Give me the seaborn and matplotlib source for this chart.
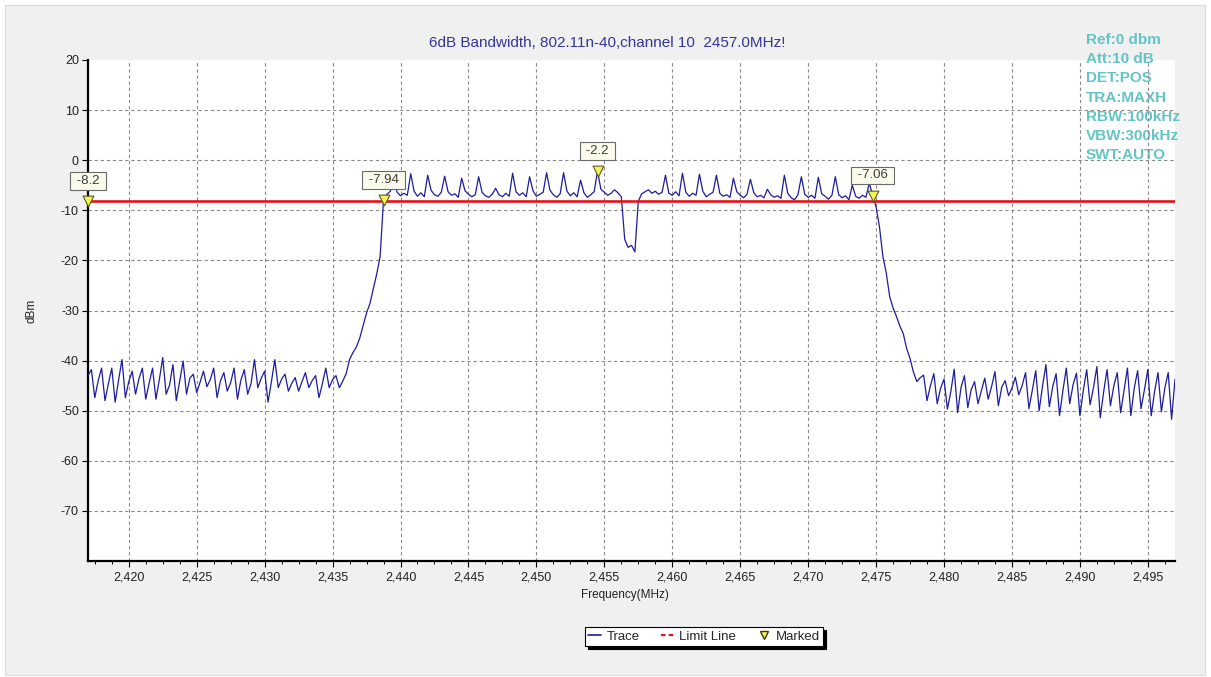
import numpy as np
import pandas as pd
import matplotlib
matplotlib.use("Agg")
import matplotlib.pyplot as plt
from matplotlib.ticker import MultipleLocator, FixedLocator, FuncFormatter
from matplotlib.lines import Line2D
from matplotlib.patches import Rectangle
import seaborn as sns

# ---- sweep and measured trace (dBm), 0.25 MHz per point ----
start_mhz = 2417.0
stop_mhz = 2497.0
n_points = 321

# noise floor below the channel, 2417.00 .. 2436.00 MHz
floor_low = [
    -43.0,
    -41.8, -47.4, -44.0,  -41.5, -48.0, -44.6,  -41.5, -48.3, -43.9,
    -39.8, -47.4, -44.2,  -42.1, -46.7, -43.6,  -41.5, -47.7, -44.5,
    -41.5, -47.7, -43.8,  -39.4, -46.7, -44.9,  -40.8, -48.0, -44.1,
    -40.1, -46.7, -43.5,  -42.7, -46.4, -44.3,  -42.1, -45.2, -43.8,
    -41.5, -47.4, -44.0,  -42.4, -46.1, -44.4,  -41.5, -47.7, -43.9,
    -41.8, -46.7, -44.6,  -39.8, -45.4, -43.5,  -42.1, -48.3, -44.2,
    -39.8, -45.4, -43.7,  -42.7, -46.1, -44.5,  -43.4, -46.1, -44.2,
    -42.4, -45.4, -44.0,  -43.0, -47.4, -44.6,  -41.5, -45.4, -43.8,
    -43.0, -45.4, -44.1,
    -42.6,
]
# lower skirt, 2436.25 .. 2438.75 MHz
rise_edge = [-39.8, -38.4, -37.3, -35.5, -33.0, -30.5, -28.6, -25.6, -22.7, -19.2, -7.94]
# occupied band, 2439.00 .. 2474.75 MHz
in_band = [
    -6.8, -6.2,
    -4.2, -6.4, -7.1, -6.6, -7.0,
    -2.7, -6.2, -7.2, -6.5, -7.3,
    -3.0, -6.0, -6.9, -7.2, -6.4,
    -3.2, -6.3, -7.0, -6.7, -7.4,
    -3.6, -6.1, -6.8, -7.3, -6.9,
    -3.3, -6.4, -7.1, -7.4, -6.8,
    -5.6, -6.9, -7.3, -6.6, -7.2,
    -2.6, -6.3, -7.0, -6.5, -7.3,
    -3.3, -6.1, -7.2, -6.8, -6.4,
    -2.5, -6.0, -6.9, -7.4, -6.7,
    -2.5, -6.2, -7.1, -6.5, -7.3,
    -4.0, -6.5, -7.4, -6.9, -6.3,
    -2.2, -5.8, -6.4, -7.0, -6.6,
    -5.9, -6.5, -7.3, -15.8, -17.4,
    -17.0, -18.3, -8.2, -6.7, -6.3,
    -5.9, -6.6, -6.2, -6.8, -6.4,
    -3.0, -6.6, -7.0, -6.3, -7.1,
    -2.6, -6.4, -7.2, -6.6, -7.0,
    -2.8, -6.2, -7.3, -6.8, -6.4,
    -3.0, -6.6, -7.2, -6.9, -7.4,
    -3.6, -6.3, -7.0, -7.5, -6.8,
    -3.8, -6.5, -7.3, -7.0, -7.5,
    -5.8, -6.9, -7.4, -7.1, -7.6,
    -3.0, -6.6, -7.5, -7.9, -6.9,
    -3.3, -6.8, -7.4, -7.0, -7.6,
    -3.4, -6.7, -7.2, -7.8, -7.0,
    -3.3, -6.9, -7.5, -7.1, -7.9,
    -5.0, -7.2, -7.6, -7.0, -7.4,
    -4.6, -7.06,
]
# upper skirt, 2475.00 .. 2478.25 MHz
fall_edge = [-9.3, -13.3, -19.2, -22.5, -27.2, -29.5, -31.2, -33.1, -34.6,
             -37.6, -39.6, -42.3, -44.2, -43.4]
# noise floor above the channel, 2478.50 .. 2497.00 MHz
floor_high = [
    -42.9, -48.0, -45.0,  -42.6, -48.6, -45.5,  -43.7, -49.7, -46.2,
    -41.7, -50.4, -45.4,  -43.0, -49.4, -45.8,  -44.2, -48.6, -46.0,
    -43.5, -47.7, -45.2,  -42.2, -49.0, -45.3,  -44.0, -47.0, -45.5,
    -43.3, -46.8, -45.0,  -42.4, -49.6, -45.9,  -42.0, -50.0, -45.1,
    -40.8, -49.2, -45.2,  -42.6, -51.0, -46.0,  -41.5, -48.6, -44.8,
    -42.5, -51.0, -46.0,  -41.8, -48.8, -45.4,  -41.2, -51.4, -46.2,
    -41.8, -49.0, -45.0,  -42.4, -50.4, -46.0,  -41.5, -51.0, -45.5,
    -42.0, -49.6, -45.8,  -41.8, -51.0, -46.1,  -42.4, -50.2, -45.5,
    -42.4, -51.7, -43.7,
]

# markers: reference level (peak - 6 dB), lower edge, peak, upper edge
marker_mhz = [2417.0, 2438.75, 2454.5, 2474.75]
marker_dbm = [-8.2, -7.94, -2.2, -7.06]
limit_dbm = -8.2

title_text = "6dB Bandwidth, 802.11n-40,channel 10  2457.0MHz!"
settings_text = ["Ref:0 dbm", "Att:10 dB", "DET:POS", "TRA:MAXH",
                 "RBW:100kHz", "VBW:300kHz", "SWT:AUTO"]
y_ticks = [-70, -60, -50, -40, -30, -20, -10, 0, 10, 20]

# ---- assemble ----
freq = np.linspace(start_mhz, stop_mhz, n_points)
dbm = np.concatenate([floor_low, rise_edge, in_band, fall_edge, floor_high])
trace = pd.DataFrame({"Frequency": freq, "dBm": dbm})

sns.set_theme(style="white")
plt.rcParams["font.family"] = ["Liberation Sans", "DejaVu Sans"]

W, H = 1211, 677
fig = plt.figure(figsize=(W / 100, H / 100), dpi=100, facecolor="white")
fig.patches.append(Rectangle((5 / W, 2 / H), 1200 / W, 670 / H, transform=fig.transFigure,
                             facecolor="#f0f0f0", edgecolor="#dcdcdc", lw=0.8, zorder=-10))

ax = fig.add_axes([88 / W, 1 - 561 / H, (1175 - 88) / W, (561 - 60) / H])
ax.set_facecolor("white")

trace_color = "#1c1ca0"
limit_color = "#e4141a"
info_color = "#62c4c6"

sns.lineplot(data=trace, x="Frequency", y="dBm", ax=ax, color=trace_color,
             lw=0.9, zorder=3, legend=False)
ax.axhline(limit_dbm, color=limit_color, lw=1.9, zorder=4)

sns.scatterplot(x=marker_mhz, y=marker_dbm, ax=ax, marker="v", s=60,
                color="#f6f25a", edgecolor="#5a5a1e", linewidth=0.8,
                zorder=6, clip_on=False, legend=False)
for fx, fy in zip(marker_mhz, marker_dbm):
    ax.annotate(f" {fy:g} ", (fx, fy), xytext=(0, 14.5), textcoords="offset points",
                ha="center", va="center", fontsize=9.5, color="#3c3c3c", zorder=7,
                annotation_clip=False,
                bbox=dict(boxstyle="square,pad=0.22", fc="#fbfbec", ec="#6a6a6a", lw=0.8))

# analyser settings sit under the grid
for i, line in enumerate(settings_text):
    ax.text(1086 / W, 1 - (40 + 19.2 * i) / H, line, transform=fig.transFigure,
            ha="left", va="center", fontsize=11, fontweight="bold",
            color=info_color, zorder=0.3, clip_on=False)

ax.set_xlim(start_mhz, stop_mhz)
ax.set_ylim(-80, 20)
ax.xaxis.set_major_locator(MultipleLocator(5))
ax.xaxis.set_minor_locator(MultipleLocator(1.25))
ax.xaxis.set_major_formatter(FuncFormatter(lambda v, p: f"{v:,.0f}"))
ax.yaxis.set_major_locator(FixedLocator(y_ticks))
ax.yaxis.set_major_formatter(FuncFormatter(lambda v, p: f"{v:.0f}"))

ax.set_axisbelow(True)
ax.grid(True, which="major", color="#8a8a8a", ls=(0, (3, 2.5)), lw=0.8)
for gl, t in zip(ax.yaxis.get_gridlines(), y_ticks):
    if t == 20:
        gl.set_visible(False)

for side in ("top", "right"):
    ax.spines[side].set_visible(False)
for side in ("left", "bottom"):
    ax.spines[side].set_color("black")
    ax.spines[side].set_linewidth(1.6)

ax.tick_params(axis="both", which="major", direction="out", length=4, width=0.8,
               color="black", labelsize=9, labelcolor="#222222")
ax.tick_params(axis="x", which="minor", direction="out", length=2.5, width=0.7,
               color="black", bottom=True)
ax.tick_params(axis="x", which="major", pad=3.5, bottom=True)
ax.tick_params(axis="y", which="major", pad=2.5, left=True)

ax.set_xlabel("Frequency(MHz)", fontsize=8.5, color="#222222")
ax.set_ylabel("dBm", fontsize=8.5, color="#222222")
ax.xaxis.set_label_coords((625 - 88) / 1087, -0.056)
ax.yaxis.set_label_coords(-0.046, 0.5)

fig.text(607 / W, 1 - 42.7 / H, title_text, ha="center", va="center",
         fontsize=11, color="#35359c")

handles = [
    Line2D([], [], color=trace_color, lw=1.2, label="Trace"),
    Line2D([], [], color=limit_color, lw=1.6, ls=(0, (2, 1.5)), label="Limit Line"),
    Line2D([], [], marker="v", ls="none", mfc="#f6f25a", mec="#3a3a10", ms=6, label="Marked"),
]
leg = fig.legend(handles=handles, loc="center", bbox_to_anchor=(704 / W, 1 - 636.5 / H),
                 ncol=3, frameon=True, fancybox=False,
                 shadow={"color": "black", "alpha": 1.0},
                 edgecolor="black", facecolor="white", framealpha=1, fontsize=9.5,
                 handlelength=1.0, handletextpad=0.4, columnspacing=1.6,
                 borderpad=0.25, borderaxespad=0)
leg.get_frame().set_linewidth(0.8)

fig.savefig("out.png", dpi=100, facecolor=fig.get_facecolor())
